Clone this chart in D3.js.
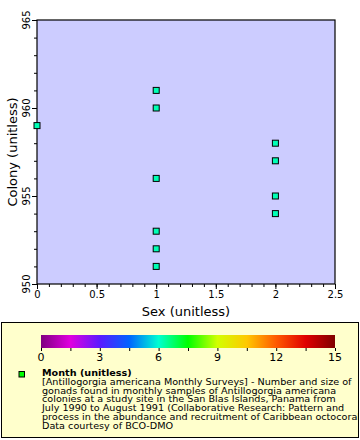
<!DOCTYPE html>
<html><head><meta charset="utf-8">
<script src="https://cdn.jsdelivr.net/npm/d3@7"></script>
<style>body{margin:0;background:#fff}svg{display:block}text{font-family:"DejaVu Sans",sans-serif}</style>
</head><body>
<script>
const sex = [0, 1, 1, 1, 1, 1, 1, 2, 2, 2, 2];
const colony = [959, 961, 960, 956, 953, 952, 951, 958, 957, 955, 954];
const month = [6.2, 6.2, 6.2, 6.2, 6.2, 6.2, 6.2, 6.2, 6.2, 6.2, 6.2];
const xTicks = [0, 0.5, 1, 1.5, 2, 2.5];
const yTicks = [950, 955, 960, 965];
const cbTicks = [0, 3, 6, 9, 12, 15];
const cbColors = ["#800080", "#e000e0", "#5a1aff", "#0064ff", "#00ffd2", "#00ff00", "#d2ff00", "#ffc800", "#ff5a00", "#e00000", "#800000"];
const legendTitle = "Month (unitless)";
const legendLines = [
  "[Antillogorgia americana Monthly Surveys] - Number and size of",
  "gonads found in monthly samples of Antillogorgia americana",
  "colonies at a study site in the San Blas Islands, Panama from",
  "July 1990 to August 1991 (Collaborative Research: Pattern and",
  "process in the abundance and recruitment of Caribbean octocorals)",
  "Data courtesy of BCO-DMO"
];

const W = 360, H = 440;
const svg = d3.select("body").append("svg").attr("width", W).attr("height", H);
const x = d3.scaleLinear().domain([0, 2.5]).range([37, 335]);
const y = d3.scaleLinear().domain([950, 965]).range([284, 20]);
const cDomain = cbColors.map((c, i) => i * 15 / (cbColors.length - 1));
const color = d3.scaleLinear().domain(cDomain).range(cbColors);

// plot background
svg.append("rect").attr("x", x(0)).attr("y", y(965)).attr("width", x(2.5) - x(0)).attr("height", y(950) - y(965))
  .attr("fill", "#ccccff").attr("stroke", "#000").attr("stroke-width", 1.2);

// x axis
const xAxis = svg.append("g").attr("transform", `translate(0,${y(950)})`);
xAxis.call(d3.axisBottom(x).tickValues(d3.range(0, 2.5001, 0.1)).tickSize(3).tickFormat(""))
  .call(g => g.select(".domain").remove());
xAxis.append("g").call(d3.axisBottom(x).tickValues(xTicks).tickSize(5).tickPadding(2).tickFormat(d => d3.format("")(d)))
  .call(g => g.select(".domain").remove())
  .call(g => g.selectAll("text").attr("font-size", 10).attr("font-family", "DejaVu Sans").attr("fill", "#000"));
svg.append("text").attr("x", (x(0) + x(2.5)) / 2).attr("y", 316).attr("text-anchor", "middle")
  .attr("font-size", 13).text("Sex (unitless)");

// y axis
const yAxis = svg.append("g").attr("transform", `translate(${x(0)},0)`);
yAxis.call(d3.axisLeft(y).tickValues(d3.range(950, 965.1, 1)).tickSize(3).tickFormat(""))
  .call(g => g.select(".domain").remove());
yAxis.call(g => g.append("g").call(d3.axisLeft(y).tickValues(yTicks).tickSize(5).tickFormat(""))
  .call(g2 => g2.select(".domain").remove()));
svg.append("g").selectAll("text").data(yTicks).join("text")
  .attr("transform", d => `translate(30,${y(d)}) rotate(-90)`)
  .attr("text-anchor", "middle").attr("font-size", 10).text(d => d);
svg.append("text").attr("transform", `translate(17,${(y(950) + y(965)) / 2}) rotate(-90)`)
  .attr("text-anchor", "middle").attr("font-size", 13).text("Colony (unitless)");

// points
svg.append("g").selectAll("rect").data(sex.map((s, i) => ({s, c: colony[i], m: month[i]}))).join("rect")
  .attr("x", d => x(d.s) - 3).attr("y", d => y(d.c) - 3).attr("width", 6).attr("height", 6)
  .attr("fill", d => color(d.m)).attr("stroke", "#000").attr("stroke-width", 1);

// legend box
const defs = svg.append("defs");
defs.append("clipPath").attr("id", "lc").append("rect").attr("x", 1).attr("y", 322).attr("width", 357).attr("height", 115);
svg.append("rect").attr("x", 1.5).attr("y", 322.5).attr("width", 357).attr("height", 115)
  .attr("fill", "#ffffcc").attr("stroke", "#000").attr("stroke-width", 1);

// colorbar
const cx = d3.scaleLinear().domain([0, 15]).range([41, 335]);
const grad = defs.append("linearGradient").attr("id", "cb").attr("x1", "0%").attr("x2", "100%");
cbColors.forEach((c, i) => grad.append("stop").attr("offset", (i / (cbColors.length - 1) * 100) + "%").attr("stop-color", c));
svg.append("rect").attr("x", cx(0)).attr("y", 335).attr("width", cx(15) - cx(0)).attr("height", 13).attr("fill", "url(#cb)");
const cbAxis = svg.append("g").attr("transform", "translate(0,348)");
cbAxis.call(d3.axisBottom(cx).tickValues(d3.range(0, 15.1, 1.5)).tickSize(3).tickFormat(""))
  .call(g => g.select(".domain").remove());
svg.append("g").selectAll("text").data(cbTicks).join("text")
  .attr("x", d => cx(d)).attr("y", 361).attr("text-anchor", "middle").attr("font-size", 11).text(d => d);

// legend entry
svg.append("rect").attr("x", 19).attr("y", 371.5).attr("width", 5.5).attr("height", 5.5)
  .attr("fill", "#00ff00").attr("stroke", "#000").attr("stroke-width", 1);
const lg = svg.append("g").attr("clip-path", "url(#lc)");
const inner = lg.append("g");
inner.append("text").attr("x", 0).attr("y", 376).attr("font-size", 9.5).attr("font-weight", "bold").text(legendTitle);
inner.selectAll("text.l").data(legendLines).join("text").attr("class", "l")
  .attr("x", 0).attr("y", (d, i) => 385 + i * 8.75).attr("font-size", 9.5).text(d => d);
const w1 = inner.select("text.l").node().getComputedTextLength();
const k = 310 / w1;
inner.attr("transform", `translate(42,0) scale(${k},1)`);
</script>
</body></html>
